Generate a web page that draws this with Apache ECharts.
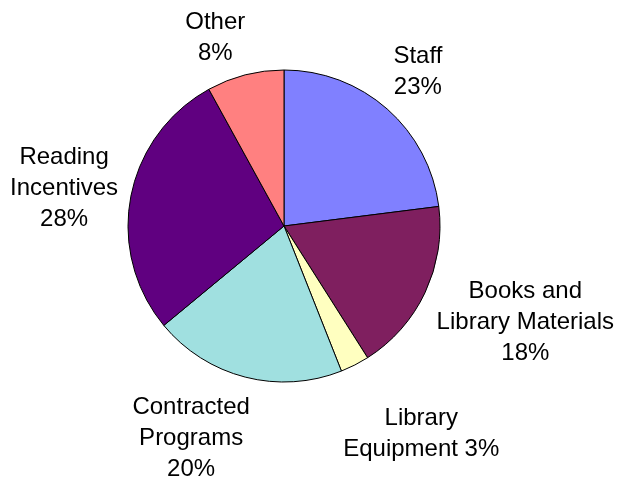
<!DOCTYPE html>
<html>
<head>
<meta charset="utf-8">
<script src="https://cdn.jsdelivr.net/npm/echarts@6/dist/echarts.min.js"></script>
<style>
html,body{margin:0;padding:0;background:#fff;}
#chart{width:618px;height:479px;}
</style>
</head>
<body>
<div id="chart"></div>
<script>
// ---- data ----
const categories = ['Staff', 'Books and\nLibrary Materials', 'Library\nEquipment', 'Contracted\nPrograms', 'Reading\nIncentives', 'Other'];
const values = [23, 18, 3, 20, 28, 8];
const sliceColors = ['#8080FF', '#7F1F5F', '#FFFFC0', '#A0E0E0', '#600080', '#FF8080'];

// ---- layout / style ----
const CX = 284, CY = 226, R = 156, LABEL_GAP = 22;
// small label nudges (px) to mimic the original label placement
const labelNudge = [[0, 3], [0, 1], [21, 22], [-34, -5], [8, 4], [-17, 14]];

const total = values.reduce((a, b) => a + b, 0);
const midAngles = [];
let acc = 0;
values.forEach(v => { midAngles.push((acc + v / 2) / total * 2 * Math.PI); acc += v; });

const chart = echarts.init(document.getElementById('chart'), null, {renderer: 'canvas'});
chart.setOption({
  backgroundColor: '#ffffff',
  animation: false,
  series: [{
    type: 'pie',
    center: [CX, CY],
    radius: [0, R],
    startAngle: 90,
    clockwise: true,
    avoidLabelOverlap: false,
    data: categories.map((c, i) => ({name: c, value: values[i], itemStyle: {color: sliceColors[i]}})),
    itemStyle: {borderColor: '#000000', borderWidth: 1},
    label: {
      show: true,
      position: 'outside',
      fontFamily: 'Liberation Sans, Arial, sans-serif',
      fontSize: 24,
      lineHeight: 31,
      color: '#000000',
      align: 'center',
      formatter: p => p.name + (p.name.endsWith('Equipment') ? ' ' : '\n') + Math.round(p.percent) + '%'
    },
    labelLine: {show: false},
    labelLayout: function (params) {
      const i = params.dataIndex;
      const a = midAngles[i];
      const ux = Math.sin(a), uy = -Math.cos(a);
      const w = params.labelRect.width, h = params.labelRect.height;
      const d = R + LABEL_GAP;
      return {
        x: CX + d * ux + ux * w / 2 + labelNudge[i][0],
        y: CY + d * uy + uy * h / 2 + labelNudge[i][1],
        align: 'center',
        verticalAlign: 'middle'
      };
    },
    emphasis: {disabled: true}
  }]
});
</script>
</body>
</html>
